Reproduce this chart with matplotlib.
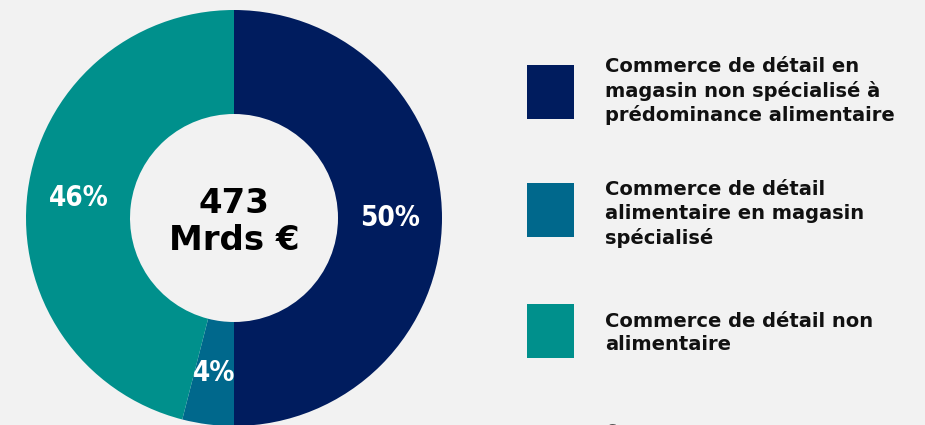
import matplotlib.pyplot as plt
from matplotlib.patches import Rectangle

# données
categories = [
    "Commerce de détail en\nmagasin non spécialisé à\nprédominance alimentaire",
    "Commerce de détail\nalimentaire en magasin\nspécialisé",
    "Commerce de détail non\nalimentaire",
]
parts = [50, 4, 46]
colors = ["#001c5e", "#00688c", "#00908c"]
total_label = "473\nMrds €"
source_label = "Source : "

W, H = 925, 425
bg = "#f2f2f2"

fig = plt.figure(figsize=(W / 100, H / 100), dpi=100, facecolor=bg)

# anneau : centre (234, 218) px, rayon 208 px
cx, cy, r = 234, 218, 208
ax = fig.add_axes([(cx - r) / W, (H - cy - r) / H, 2 * r / W, 2 * r / H])
ax.set_facecolor(bg)
wedges, texts, autotexts = ax.pie(
    parts, colors=colors, startangle=90, counterclock=False, radius=1,
    autopct=lambda p: f"{p:.0f}%", pctdistance=0.75,
    wedgeprops=dict(width=0.5, edgecolor="none"),
)
for t in autotexts:
    t.set_color("white")
    t.set_fontsize(20)
    t.set_fontweight("bold")
    t.set_fontstretch("condensed")
ax.text(0, -0.02, total_label, ha="center", va="center", fontsize=24.5,
        fontweight="bold", color="black", linespacing=1.15)
ax.set_xlim(-1, 1)
ax.set_ylim(-1, 1)
ax.set_aspect("equal")
ax.axis("off")

# légende manuelle
lax = fig.add_axes([0, 0, 1, 1])
lax.set_xlim(0, W)
lax.set_ylim(H, 0)
lax.axis("off")
box_tops = [65, 183, 304]
text_shift = [0, 5, 3]
for top, dy, color, label in zip(box_tops, text_shift, colors, categories):
    lax.add_patch(Rectangle((527, top), 47, 54, facecolor=color, edgecolor="none"))
    lax.text(605, top + 26 + dy, label, ha="left", va="center", fontsize=14,
             fontweight="bold", color="#111111", linespacing=1.3)

lax.text(607, 432, source_label, ha="left", va="center", fontsize=12, color="#555555")

fig.savefig("out.png", dpi=100, facecolor=bg)
